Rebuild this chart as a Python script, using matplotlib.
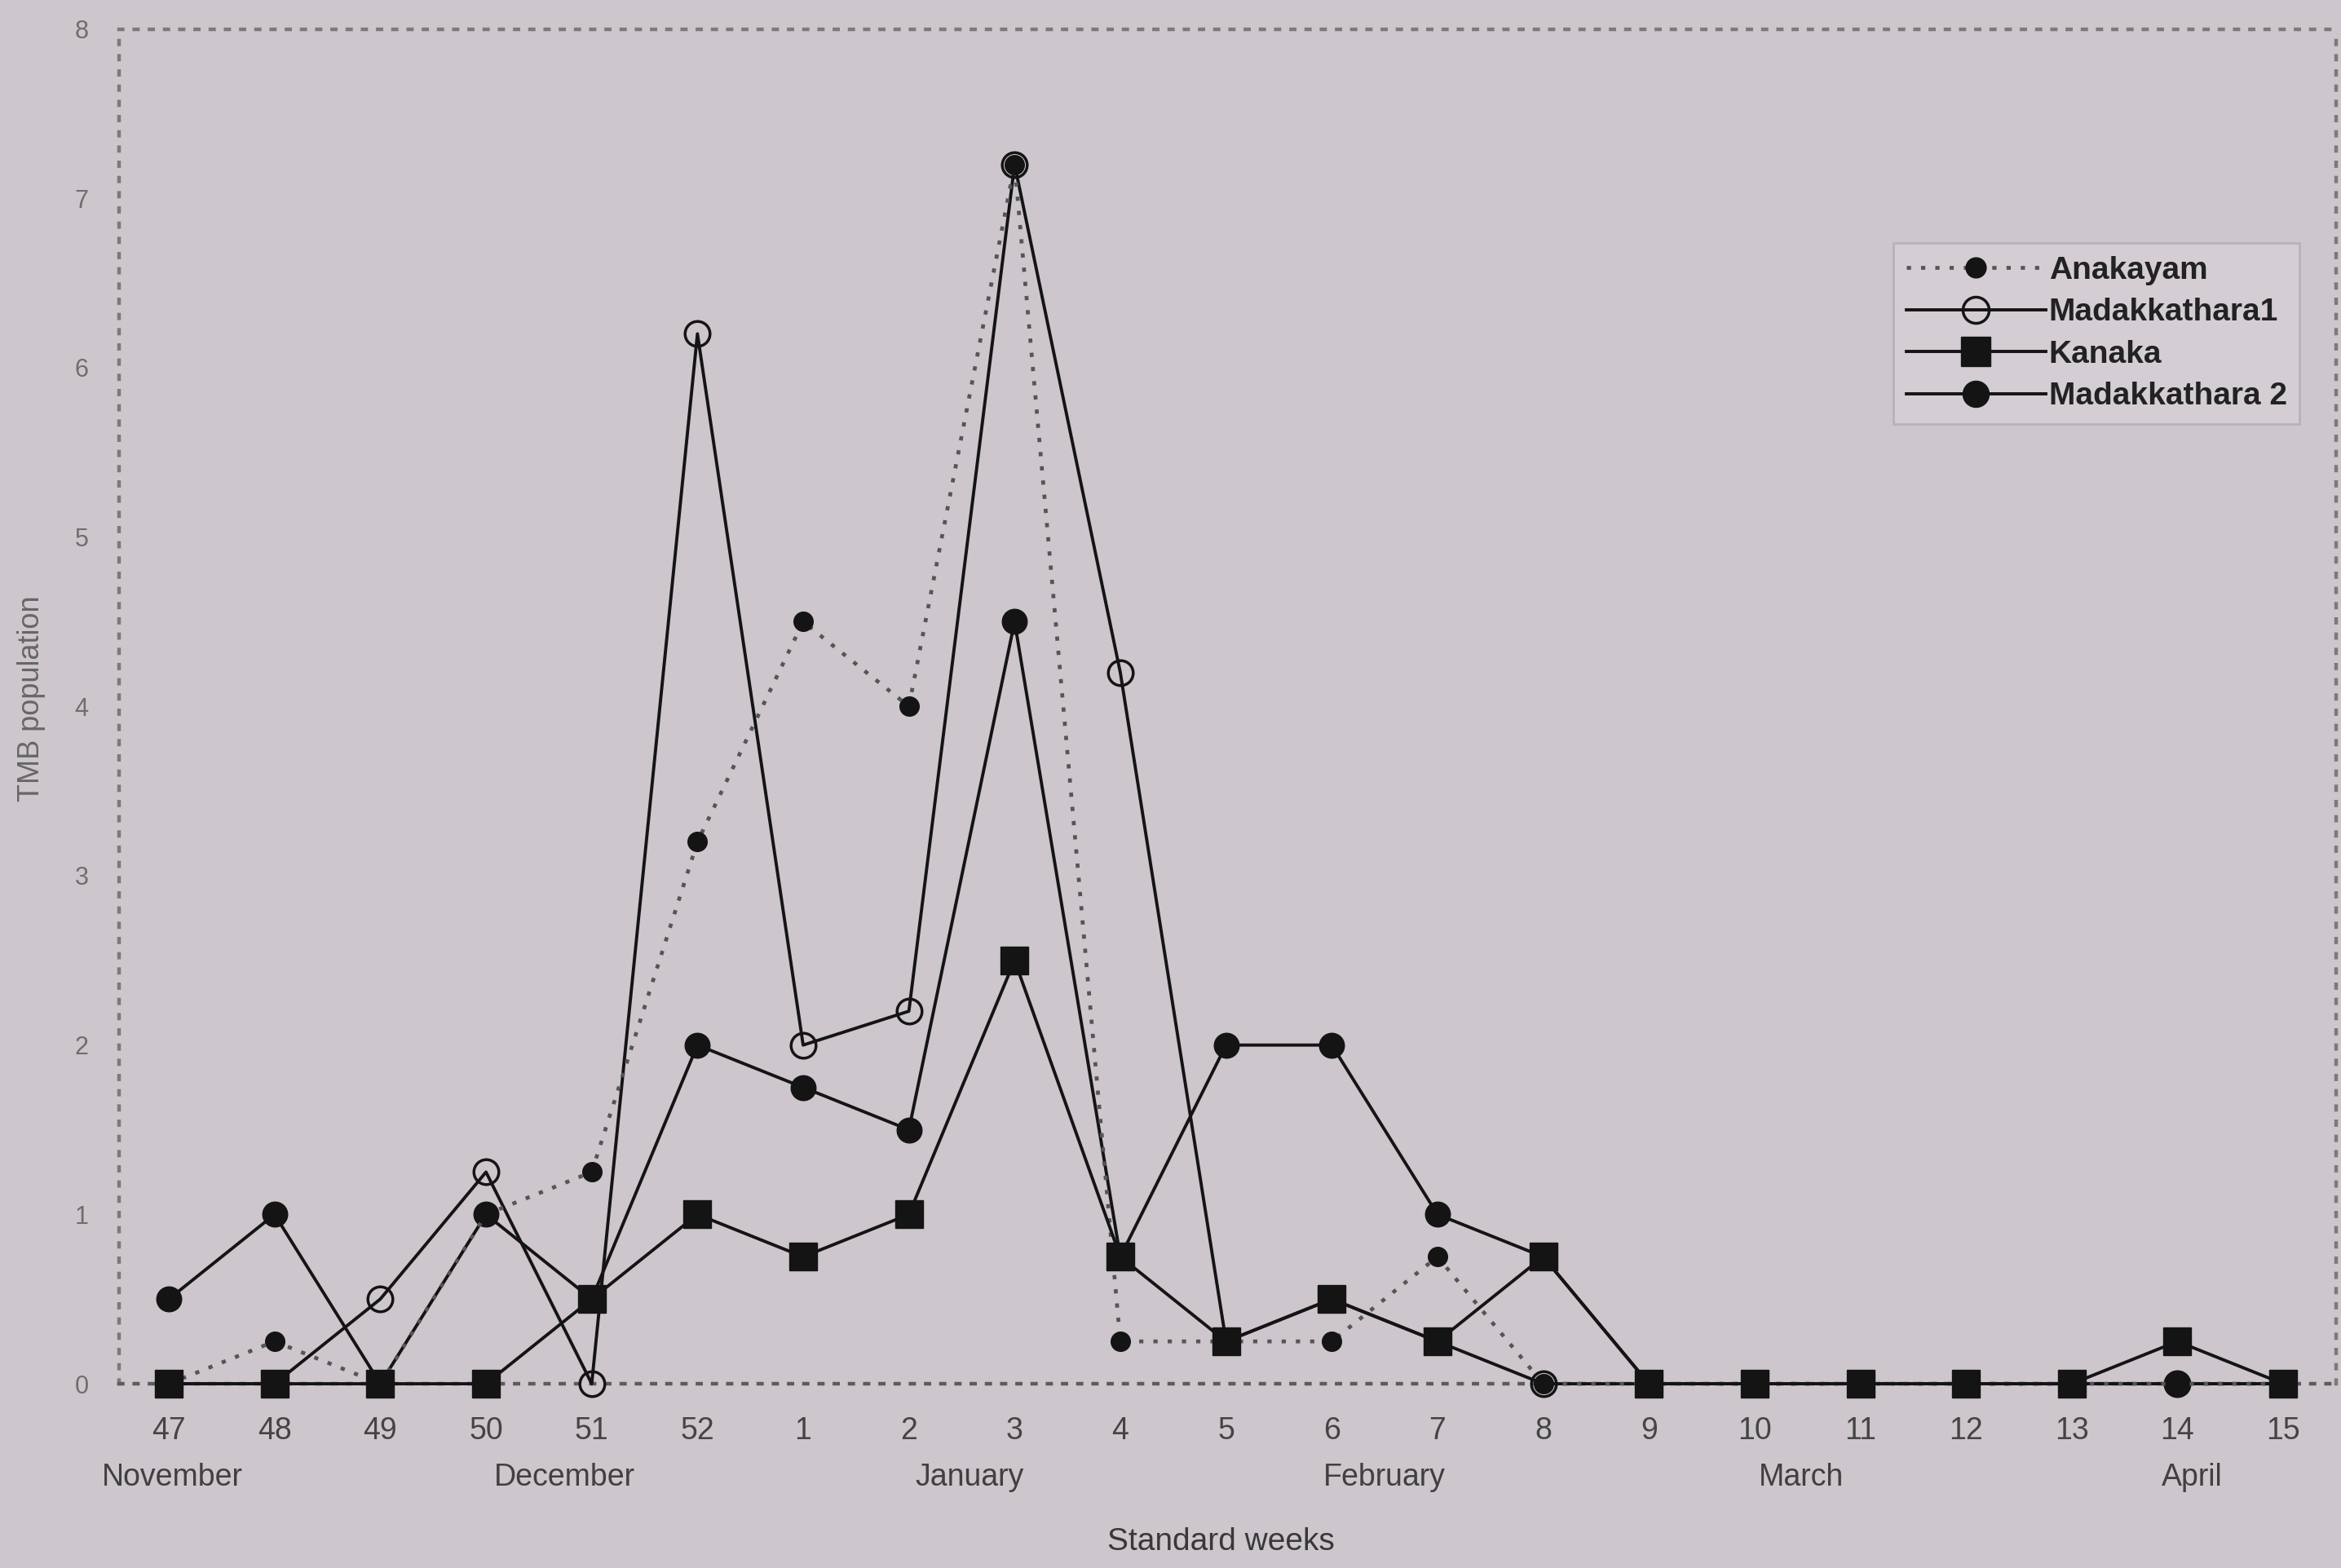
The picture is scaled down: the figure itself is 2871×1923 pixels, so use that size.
import matplotlib
matplotlib.use("Agg")
import matplotlib.pyplot as plt
from matplotlib.transforms import blended_transform_factory

plt.rcParams['font.family'] = ['Liberation Sans', 'DejaVu Sans']

# Standard weeks (Nov -> Apr)
weeks = ["47", "48", "49", "50", "51", "52", "1", "2", "3", "4", "5",
         "6", "7", "8", "9", "10", "11", "12", "13", "14", "15"]

anakayam = [0, 0.25, 0, 1.0, 1.25, 3.2, 4.5, 4.0, 7.2, 0.25, 0.25,
            0.25, 0.75, 0, 0, 0, 0, 0, 0, 0, 0]
madakkathara1 = [0, 0, 0.5, 1.25, 0, 6.2, 2.0, 2.2, 7.2, 4.2, 0.25,
                 0.5, 0.25, 0, 0, 0, 0, 0, 0, 0, 0]
kanaka = [0, 0, 0, 0, 0.5, 1.0, 0.75, 1.0, 2.5, 0.75, 0.25,
          0.5, 0.25, 0.75, 0, 0, 0, 0, 0, 0.25, 0]
madakkathara2 = [0.5, 1.0, 0, 1.0, 0.5, 2.0, 1.75, 1.5, 4.5, 0.75, 2.0,
                 2.0, 1.0, 0.75, 0, 0, 0, 0, 0, 0, 0]

months = ["November", "December", "January", "February", "March", "April"]
month_pos = [0.03, 3.74, 7.57, 11.5, 15.44, 19.14]

bg = "#cdc6cc"
ink = "#141414"

fig = plt.figure(figsize=(28.71, 19.23), dpi=100, facecolor=bg)
ax = fig.add_axes([0.0509, 0.1175, 0.947, 0.8640], facecolor=bg)

x = list(range(len(weeks)))

ax.plot(x, madakkathara1, color=ink, lw=2.8, marker="o", ms=22,
        mfc="none", mec=ink, mew=2.5, label="Madakkathara1", zorder=3,
        clip_on=False)
ax.plot(x, madakkathara2, color=ink, lw=2.8, marker="o", ms=22,
        mfc=ink, mec=ink, label="Madakkathara 2", zorder=4, clip_on=False)
ax.plot(x, anakayam, color="#555555", lw=3.4, linestyle=(0, (1.1, 2.6)),
        marker="o", ms=17, mfc=ink, mec=ink, label="Anakayam", zorder=5,
        clip_on=False)
ax.plot(x, kanaka, color=ink, lw=2.8, marker="s", ms=24,
        mfc=ink, mec=ink, label="Kanaka", zorder=6, clip_on=False)

ax.set_xlim(-0.47, 20.5)
ax.set_ylim(0, 8)

# dotted frame
for side, spine in ax.spines.items():
    spine.set_linestyle((0, (1.0, 3.2)))
    spine.set_linewidth(3.2)
    spine.set_color("#5c5c5c" if side == "bottom" else "#7a7a7a")

ax.set_xticks(x)
ax.set_xticklabels(weeks)
ax.set_yticks(range(0, 9))
ax.tick_params(axis="x", length=0, pad=29, labelsize=27, labelcolor="#444444")
ax.tick_params(axis="y", length=0, pad=27, labelsize=22, labelcolor="#6e6e6e")

trans = blended_transform_factory(ax.transData, ax.transAxes)
for name, pos in zip(months, month_pos):
    ax.text(pos, -0.069, name, transform=trans, ha="center", va="center",
            fontsize=27, color="#404040")

ax.set_xlabel("Standard weeks", fontsize=28, color="#383838")
ax.xaxis.set_label_coords(0.497, -0.106)
ax.set_ylabel("TMB population", fontsize=26, color="#666666")
ax.yaxis.set_label_coords(-0.033, 0.506)

handles, labels = ax.get_legend_handles_labels()
order = [labels.index(n) for n in ["Anakayam", "Madakkathara1", "Kanaka", "Madakkathara 2"]]
leg = ax.legend([handles[i] for i in order], [labels[i] for i in order],
                loc="upper left", bbox_to_anchor=(0.8088, 0.845),
                bbox_transform=fig.transFigure, borderaxespad=0,
                fontsize=28, handlelength=4.4, handletextpad=0.1,
                labelspacing=0.4, borderpad=0.4, fancybox=False,
                framealpha=1, facecolor="#d4ced4", edgecolor="#b8b2b8",
                markerscale=1.05)
leg.get_frame().set_linewidth(2)
for t in leg.get_texts():
    t.set_color("#222222")
    t.set_fontweight("bold")

fig.savefig("out.png", dpi=100, facecolor=bg)
